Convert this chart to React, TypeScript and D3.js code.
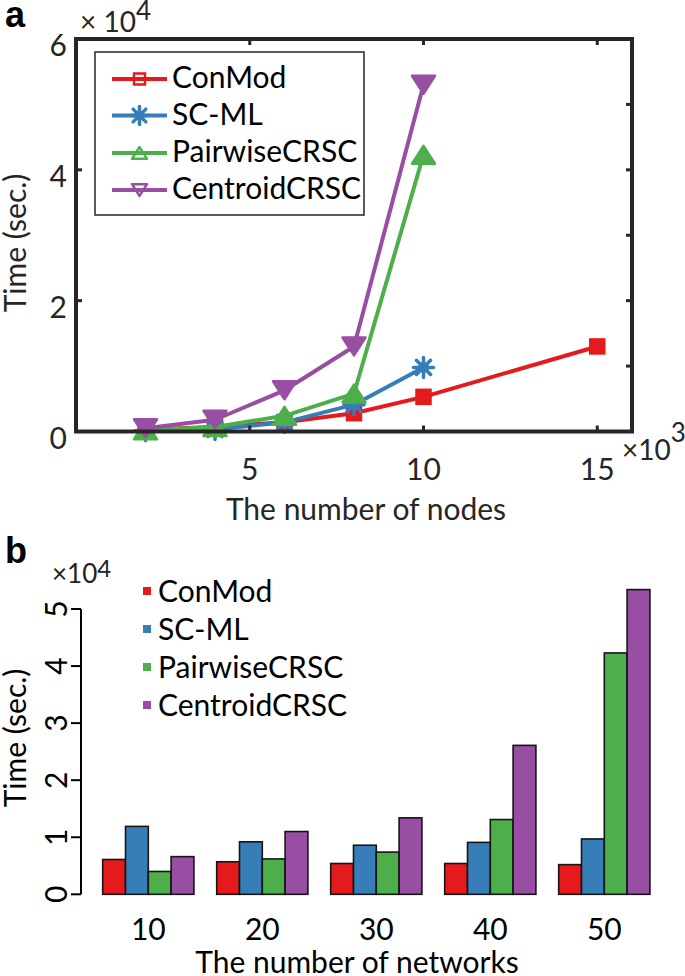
import React, { useEffect, useRef } from 'react';
import * as d3 from 'd3';

// series shared by both panels
const seriesNames = ['ConMod', 'SC-ML', 'PairwiseCRSC', 'CentroidCRSC'];
const seriesColors = ['#e41a1c', '#377eb8', '#4daf4a', '#984ea3'];
const seriesMarkers = ['square', 'asterisk', 'triangleUp', 'triangleDown'];

// panel a: number of nodes (x10^3) vs time (x10^4 sec.)
const conModNodes = [2, 4, 6, 8, 10, 15];
const conModTime = [0.03, 0.07, 0.14, 0.28, 0.53, 1.3];
const scmlNodes = [2, 4, 6, 8, 10];
const scmlTime = [0.01, 0.03, 0.14, 0.41, 0.98];
const pairwiseNodes = [2, 4, 6, 8, 10];
const pairwiseTime = [0.02, 0.07, 0.24, 0.58, 4.23];
const centroidNodes = [2, 4, 6, 8, 10];
const centroidTime = [0.05, 0.18, 0.63, 1.3, 5.3];

const nodeTicks = [5, 10, 15];
const timeTicksA = [0, 2, 4, 6];
const rightTicksA = [1, 2, 3, 4, 5];

// panel b: number of networks vs time (x10^4 sec.)
const networkGroups = ['10', '20', '30', '40', '50'];
const barConMod = [0.61, 0.57, 0.54, 0.54, 0.52];
const barSCML = [1.19, 0.92, 0.86, 0.91, 0.97];
const barPairwise = [0.4, 0.62, 0.74, 1.31, 4.23];
const barCentroid = [0.66, 1.1, 1.34, 2.61, 5.34];
const timeTicksB = [0, 1, 2, 3, 4, 5];

const FONT = 'Lato, "Open Sans", sans-serif';

type Sel = d3.Selection<SVGGElement, unknown, null, undefined>;

function drawMarker(g: Sel, kind: string, cx: number, cy: number, color: string, s: number, filled: boolean) {
  const fill = filled ? color : 'none';
  if (kind === 'square') {
    g.append('rect')
      .attr('x', cx - s / 2).attr('y', cy - s / 2)
      .attr('width', s).attr('height', s)
      .attr('fill', fill).attr('stroke', color).attr('stroke-width', 2.5);
  } else if (kind === 'asterisk') {
    const r = s / 2;
    for (let k = 0; k < 4; k++) {
      const a = (k * Math.PI) / 4;
      g.append('line')
        .attr('x1', cx - r * Math.cos(a)).attr('y1', cy - r * Math.sin(a))
        .attr('x2', cx + r * Math.cos(a)).attr('y2', cy + r * Math.sin(a))
        .attr('stroke', color).attr('stroke-width', 3.5).attr('stroke-linecap', 'round');
    }
    if (filled) g.append('circle').attr('cx', cx).attr('cy', cy).attr('r', r * 0.55).attr('fill', color);
  } else {
    const w = s, h = s * 0.78;
    const dir = kind === 'triangleUp' ? -1 : 1;
    const pts = [
      [cx - w / 2, cy - (dir * h) / 2],
      [cx + w / 2, cy - (dir * h) / 2],
      [cx, cy + (dir * h) / 2],
    ];
    g.append('polygon')
      .attr('points', pts.map(p => p.join(',')).join(' '))
      .attr('fill', fill).attr('stroke', color).attr('stroke-width', 2.5)
      .attr('stroke-linejoin', 'round');
  }
}

const App: React.FC = () => {
  const svgRef = useRef<SVGSVGElement>(null);

  useEffect(() => {
    if (!svgRef.current) return;
    const svg = d3.select(svgRef.current);
    svg.selectAll('*').remove();
    const root = svg.append('g') as unknown as Sel;

    // ---------------- panel a ----------------
    const axisColor = '#262626';
    const xA = d3.scaleLinear().domain([0, 16]).range([76, 632]);
    const yA = d3.scaleLinear().domain([0, 6]).range([431.5, 39]);
    const [left, right] = xA.range();
    const [bottom, top] = yA.range();

    root.append('text').attr('x', 5).attr('y', 27)
      .attr('font-family', '"Liberation Sans", Arial, sans-serif')
      .attr('font-weight', 'bold').attr('font-size', 36).text('a');

    const lineSeries = [
      { x: conModNodes, y: conModTime },
      { x: scmlNodes, y: scmlTime },
      { x: pairwiseNodes, y: pairwiseTime },
      { x: centroidNodes, y: centroidTime },
    ];

    const line = d3.line<[number, number]>().x(d => xA(d[0])).y(d => yA(d[1]));
    lineSeries.forEach((s, i) => {
      const pts = s.x.map((v, j) => [v, s.y[j]] as [number, number]);
      const g = root.append('g') as unknown as Sel;
      g.append('path').attr('d', line(pts))
        .attr('fill', 'none').attr('stroke', seriesColors[i])
        .attr('stroke-width', 4).attr('stroke-linejoin', 'round');
      const size = seriesMarkers[i] === 'square' ? 14 : seriesMarkers[i] === 'asterisk' ? 20 : 23;
      pts.forEach(p => drawMarker(g, seriesMarkers[i], xA(p[0]), yA(p[1]), seriesColors[i], size, true));
    });

    // frame and ticks
    root.append('rect')
      .attr('x', left).attr('y', top)
      .attr('width', right - left).attr('height', bottom - top)
      .attr('fill', 'none').attr('stroke', axisColor).attr('stroke-width', 4);
    nodeTicks.forEach(t => {
      root.append('line').attr('x1', xA(t)).attr('x2', xA(t)).attr('y1', bottom).attr('y2', bottom - 6)
        .attr('stroke', axisColor).attr('stroke-width', 3);
      root.append('line').attr('x1', xA(t)).attr('x2', xA(t)).attr('y1', top).attr('y2', top + 6)
        .attr('stroke', axisColor).attr('stroke-width', 3);
      root.append('text').attr('x', xA(t)).attr('y', 480)
        .attr('text-anchor', 'middle').attr('font-family', FONT).attr('font-size', 30)
        .attr('fill', axisColor).text(String(t));
    });
    timeTicksA.forEach(t => {
      root.append('line').attr('x1', left).attr('x2', left + 6).attr('y1', yA(t)).attr('y2', yA(t))
        .attr('stroke', axisColor).attr('stroke-width', 3);
      root.append('text').attr('x', 67).attr('y', yA(t) + 17)
        .attr('text-anchor', 'end').attr('font-family', FONT).attr('font-size', 30)
        .attr('fill', axisColor).text(String(t));
    });
    rightTicksA.forEach(t => {
      root.append('line').attr('x1', right).attr('x2', right - 6).attr('y1', yA(t)).attr('y2', yA(t))
        .attr('stroke', axisColor).attr('stroke-width', 3);
    });

    // exponents
    const expA = root.append('text').attr('x', 80).attr('y', 32)
      .attr('font-family', FONT).attr('font-size', 28).attr('fill', axisColor);
    expA.append('tspan').text('\u00d7 10');
    expA.append('tspan').attr('dy', -12).attr('font-size', 26).text('4');
    const expX = root.append('text').attr('x', 622).attr('y', 460)
      .attr('font-family', FONT).attr('font-size', 28).attr('fill', axisColor);
    expX.append('tspan').text('\u00d710');
    expX.append('tspan').attr('dy', -18).attr('font-size', 26).text('3');

    root.append('text')
      .attr('transform', `translate(26,243) rotate(-90)`)
      .attr('text-anchor', 'middle').attr('font-family', FONT).attr('font-size', 30)
      .attr('fill', axisColor).text('Time (sec.)');
    root.append('text').attr('x', 366).attr('y', 520)
      .attr('text-anchor', 'middle').attr('font-family', FONT).attr('font-size', 30)
      .attr('fill', axisColor).text('The number of nodes');

    // legend a
    root.append('rect').attr('x', 95).attr('y', 52).attr('width', 269).attr('height', 163)
      .attr('fill', 'white').attr('stroke', axisColor).attr('stroke-width', 1.5);
    const legendRowsA = [79, 115.5, 153, 190];
    seriesNames.forEach((name, i) => {
      const ly = legendRowsA[i];
      const g = root.append('g') as unknown as Sel;
      g.append('line').attr('x1', 112).attr('x2', 167).attr('y1', ly).attr('y2', ly)
        .attr('stroke', seriesColors[i]).attr('stroke-width', 4);
      const size = seriesMarkers[i] === 'square' ? 11 : seriesMarkers[i] === 'asterisk' ? 18 : 15;
      drawMarker(g, seriesMarkers[i], 139.5, ly, seriesColors[i], size, seriesMarkers[i] === 'asterisk');
      g.append('text').attr('x', 172).attr('y', ly + 9)
        .attr('font-family', FONT).attr('font-size', 30).attr('fill', 'black').text(name);
    });

    // ---------------- panel b ----------------
    root.append('text').attr('x', 5).attr('y', 563)
      .attr('font-family', '"Liberation Sans", Arial, sans-serif')
      .attr('font-weight', 'bold').attr('font-size', 36).text('b');

    const xB = d3.scaleBand<string>().domain(networkGroups).range([91.3, 661.3])
      .paddingInner(0.2).paddingOuter(0.1);
    const xInner = d3.scaleBand<string>().domain(seriesNames).range([0, xB.bandwidth()]).padding(0);
    const yB = d3.scaleLinear().domain([0, 5]).range([894.3, 609]);
    const barSeries = [barConMod, barSCML, barPairwise, barCentroid];

    networkGroups.forEach((grp, gi) => {
      seriesNames.forEach((name, si) => {
        const v = barSeries[si][gi];
        root.append('rect')
          .attr('x', (xB(grp) ?? 0) + (xInner(name) ?? 0))
          .attr('y', yB(v))
          .attr('width', xInner.bandwidth())
          .attr('height', yB(0) - yB(v))
          .attr('fill', seriesColors[si])
          .attr('stroke', '#151515').attr('stroke-width', 1.6);
      });
      root.append('text').attr('x', (xB(grp) ?? 0) + xB.bandwidth() / 2).attr('y', 940)
        .attr('text-anchor', 'middle').attr('font-family', FONT).attr('font-size', 30)
        .attr('fill', 'black').text(grp);
    });

    const axisX = 81;
    root.append('line').attr('x1', axisX).attr('x2', axisX).attr('y1', yB(5)).attr('y2', yB(0))
      .attr('stroke', 'black').attr('stroke-width', 2);
    timeTicksB.forEach(t => {
      root.append('line').attr('x1', axisX - 10).attr('x2', axisX).attr('y1', yB(t)).attr('y2', yB(t))
        .attr('stroke', 'black').attr('stroke-width', 2);
      root.append('text')
        .attr('transform', `translate(67,${yB(t)}) rotate(-90)`)
        .attr('text-anchor', 'middle').attr('font-family', FONT).attr('font-size', 30)
        .attr('fill', 'black').text(String(t));
    });

    const expB = root.append('text').attr('x', 52).attr('y', 583)
      .attr('font-family', FONT).attr('font-size', 26).attr('fill', '#222');
    expB.append('tspan').text('\u00d710');
    expB.append('tspan').attr('dy', -6).attr('font-size', 24).text('4');

    root.append('text')
      .attr('transform', `translate(26,738) rotate(-90)`)
      .attr('text-anchor', 'middle').attr('font-family', FONT).attr('font-size', 30)
      .attr('fill', 'black').text('Time (sec.)');
    root.append('text').attr('x', 357).attr('y', 973)
      .attr('text-anchor', 'middle').attr('font-family', FONT).attr('font-size', 30)
      .attr('fill', 'black').text('The number of networks');

    // legend b
    const legendRowsB = [591, 629, 667, 705];
    seriesNames.forEach((name, i) => {
      const ly = legendRowsB[i];
      root.append('rect').attr('x', 143).attr('y', ly - 4).attr('width', 8).attr('height', 8)
        .attr('fill', seriesColors[i]);
      root.append('text').attr('x', 158).attr('y', ly + 10.5)
        .attr('font-family', FONT).attr('font-size', 30).attr('fill', 'black').text(name);
    });
  }, []);

  return (
    <svg
      ref={svgRef}
      width={685}
      height={976}
      style={{ position: 'absolute', left: 0, top: 0, background: 'white' }}
    />
  );
};

export default App;
